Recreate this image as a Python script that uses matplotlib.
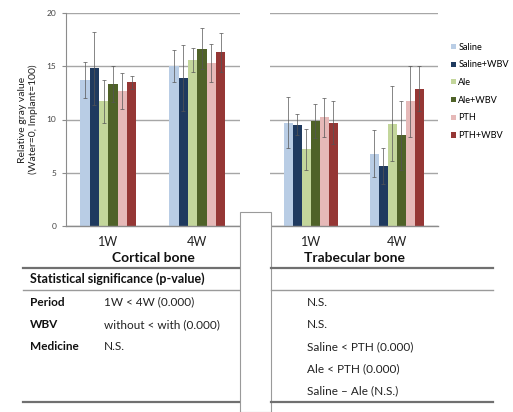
import matplotlib.pyplot as plt
from matplotlib.lines import Line2D
from matplotlib.patches import Rectangle

plt.rcParams['font.family'] = ['Lato', 'DejaVu Sans']

groups = ['Saline', 'Saline+WBV', 'Ale', 'Ale+WBV', 'PTH', 'PTH+WBV']
colors = ['#b9cde5', '#1f3a5f', '#c3d69b', '#4f6228', '#e6b9b8', '#953735']
periods = ['1W', '4W']

# values per group: [1W, 4W]
cortical = [[13.7, 15.0], [14.8, 13.9], [11.7, 15.6], [13.3, 16.65], [12.7, 15.3], [13.5, 16.3]]
cortical_err = [[1.7, 1.5], [3.4, 3.1], [2.0, 1.1], [1.7, 1.9], [1.7, 1.8], [0.6, 1.8]]
trabecular = [[9.7, 6.8], [9.5, 5.6], [7.2, 9.6], [9.85, 8.5], [10.2, 11.7], [9.7, 12.9]]
trabecular_err = [[2.4, 2.2], [1.0, 1.7], [1.9, 3.5], [1.6, 3.2], [1.8, 3.3], [2.0, 2.1]]

stat_rows = ['Period', 'WBV', 'Medicine']
cortical_stats = ['1W < 4W (0.000)', 'without < with (0.000)', 'N.S.']
trabecular_stats = ['N.S.', 'N.S.', 'Saline < PTH (0.000)', 'Ale < PTH (0.000)',
                    'Saline \u2013 Ale (N.S.)']

W, H = 513, 412
fig = plt.figure(figsize=(W / 100, H / 100), dpi=100)


def fx(px):
    return px / W


def fy(py):
    return 1 - py / H


def draw_panel(ax, vals, errs, title, show_y):
    bw = 0.105
    for i, g in enumerate(groups):
        xs = [p + (i - 2.5) * bw for p in range(len(periods))]
        ax.bar(xs, vals[i], width=bw, color=colors[i], label=g, zorder=2,
               edgecolor='none')
        ax.errorbar(xs, vals[i], yerr=errs[i], fmt='none', ecolor='#555555',
                    elinewidth=0.5, capsize=1.2, capthick=0.5, zorder=3)
    ax.set_ylim(0, 20)
    ax.set_xlim(-0.475, 1.48)
    ax.set_yticks([0, 5, 10, 15, 20])
    ax.yaxis.grid(True, color='#a6a6a6', lw=1.0, zorder=0)
    ax.set_axisbelow(True)
    for s in ['top', 'right']:
        ax.spines[s].set_visible(False)
    ax.spines['bottom'].set_color('#8c8c8c')
    ax.spines['bottom'].set_linewidth(1.0)
    ax.set_xticks([0, 1])
    ax.set_xticklabels(periods, fontsize=9, color='#222222')
    ax.tick_params(axis='x', length=0, pad=7)
    if show_y:
        ax.spines['left'].set_color('#8c8c8c')
        ax.tick_params(axis='y', labelsize=6, colors='#8c8c8c', length=3,
                       labelcolor='#444444', pad=4)
        ax.set_ylabel('Relative gray value\n(Water=0, Implant=100)', fontsize=7.5,
                      color='#222222', labelpad=6)
    else:
        ax.spines['left'].set_visible(False)
        ax.tick_params(axis='y', length=0, labelleft=False)
    ax.set_xlabel(title, fontsize=10, fontweight='bold', labelpad=3, color='#111111')


ax1 = fig.add_axes([fx(66), fy(226), fx(240 - 66), (226 - 13) / H])
ax2 = fig.add_axes([fx(270), fy(226), fx(438 - 270), (226 - 13) / H])
draw_panel(ax1, cortical, cortical_err, 'Cortical bone', True)
draw_panel(ax2, trabecular, trabecular_err, 'Trabecular bone', False)

handles, labels = ax2.get_legend_handles_labels()
fig.legend(handles, labels, loc='upper left', bbox_to_anchor=(fx(447), fy(39)),
           frameon=False, fontsize=6.6, handlelength=0.55, handleheight=0.5,
           handletextpad=0.3, labelspacing=0.95, borderaxespad=0)

# separator box between the two halves
fig.add_artist(Rectangle((fx(240), 0), fx(31), fy(212), transform=fig.transFigure,
                         facecolor='white', edgecolor='#9a9a9a', lw=0.8, zorder=5))

# table lines
for y, lw, c in [(268, 1.6, '#707070'), (290, 1.0, '#9a9a9a'), (402, 1.6, '#707070')]:
    fig.add_artist(Line2D([fx(23), fx(239)], [fy(y), fy(y)], color=c, lw=lw, zorder=6))
    fig.add_artist(Line2D([fx(271), fx(493)], [fy(y), fy(y)], color=c, lw=lw, zorder=6))

fig.text(fx(30), fy(279), 'Statistical significance (p-value)', fontsize=9,
         fontweight='bold', va='center', color='#111111')
row_y = [302, 325, 347, 369, 391]
for i, r in enumerate(stat_rows):
    fig.text(fx(30), fy(row_y[i]), r, fontsize=8.5, fontweight='bold', va='center',
             color='#111111')
    fig.text(fx(104), fy(row_y[i]), cortical_stats[i], fontsize=8.5, va='center',
             color='#222222')
for i, s in enumerate(trabecular_stats):
    fig.text(fx(307), fy(row_y[i]), s, fontsize=8.5, va='center', color='#222222')

fig.savefig('out.png', dpi=100)
